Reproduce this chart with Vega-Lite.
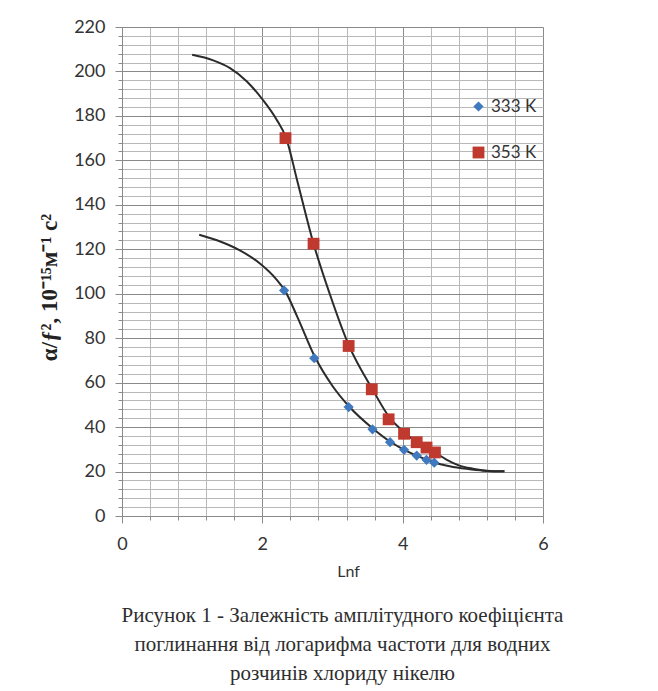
{
  "$schema": "https://vega.github.io/schema/vega-lite/v6.json",
  "autosize": "none",
  "padding": {"left": 122, "top": 27, "right": 115, "bottom": 175},
  "width": 421,
  "height": 489,
  "background": "white",
  "config": {
    "view": {"stroke": null},
    "font": "Lato"
  },
  "title": {
    "text": ["Рисунок 1 - Залежність амплітудного коефіцієнта", "поглинання від логарифма частоти для водних", "розчинів хлориду нікелю"],
    "orient": "bottom",
    "anchor": "middle",
    "font": "Liberation Serif",
    "fontSize": 21,
    "fontWeight": "normal",
    "color": "#2e2e2e",
    "lineHeight": 29,
    "offset": 26,
    "dx": 10
  },
  "datasets": {
    "points": [
      {"lnf": 2.31, "value": 101.5, "series": "333 K"},
      {"lnf": 2.74, "value": 71, "series": "333 K"},
      {"lnf": 3.23, "value": 49, "series": "333 K"},
      {"lnf": 3.57, "value": 39, "series": "333 K"},
      {"lnf": 3.82, "value": 33.2, "series": "333 K"},
      {"lnf": 4.02, "value": 29.8, "series": "333 K"},
      {"lnf": 4.2, "value": 27.2, "series": "333 K"},
      {"lnf": 4.34, "value": 25.3, "series": "333 K"},
      {"lnf": 4.45, "value": 24, "series": "333 K"},
      {"lnf": 2.33, "value": 170, "series": "353 K"},
      {"lnf": 2.73, "value": 122.5, "series": "353 K"},
      {"lnf": 3.23, "value": 76.5, "series": "353 K"},
      {"lnf": 3.56, "value": 57, "series": "353 K"},
      {"lnf": 3.8, "value": 43.5, "series": "353 K"},
      {"lnf": 4.02, "value": 37, "series": "353 K"},
      {"lnf": 4.2, "value": 33.2, "series": "353 K"},
      {"lnf": 4.34, "value": 30.8, "series": "353 K"},
      {"lnf": 4.46, "value": 28.6, "series": "353 K"}
    ],
    "curves": [
      {"lnf": 1.0, "value": 207.5, "curve": "fit353"},
      {"lnf": 1.3, "value": 205, "curve": "fit353"},
      {"lnf": 1.54, "value": 201.5, "curve": "fit353"},
      {"lnf": 1.78, "value": 195.5, "curve": "fit353"},
      {"lnf": 2.0, "value": 187.5, "curve": "fit353"},
      {"lnf": 2.2, "value": 178.5, "curve": "fit353"},
      {"lnf": 2.34, "value": 170, "curve": "fit353"},
      {"lnf": 2.5, "value": 150.5, "curve": "fit353"},
      {"lnf": 2.73, "value": 122.5, "curve": "fit353"},
      {"lnf": 2.96, "value": 100, "curve": "fit353"},
      {"lnf": 3.23, "value": 77, "curve": "fit353"},
      {"lnf": 3.57, "value": 57, "curve": "fit353"},
      {"lnf": 3.82, "value": 44, "curve": "fit353"},
      {"lnf": 4.03, "value": 37.5, "curve": "fit353"},
      {"lnf": 4.2, "value": 33.2, "curve": "fit353"},
      {"lnf": 4.46, "value": 28.6, "curve": "fit353"},
      {"lnf": 4.63, "value": 25.3, "curve": "fit353"},
      {"lnf": 4.8, "value": 22.8, "curve": "fit353"},
      {"lnf": 5.0, "value": 21.3, "curve": "fit353"},
      {"lnf": 5.2, "value": 20.4, "curve": "fit353"},
      {"lnf": 5.45, "value": 20.1, "curve": "fit353"},
      {"lnf": 1.1, "value": 126.5, "curve": "fit333"},
      {"lnf": 1.4, "value": 123.5, "curve": "fit333"},
      {"lnf": 1.68, "value": 119.5, "curve": "fit333"},
      {"lnf": 1.97, "value": 113.5, "curve": "fit333"},
      {"lnf": 2.2, "value": 106.5, "curve": "fit333"},
      {"lnf": 2.32, "value": 101.5, "curve": "fit333"},
      {"lnf": 2.5, "value": 89.5, "curve": "fit333"},
      {"lnf": 2.75, "value": 71.5, "curve": "fit333"},
      {"lnf": 3.0, "value": 58.5, "curve": "fit333"},
      {"lnf": 3.23, "value": 49.5, "curve": "fit333"},
      {"lnf": 3.57, "value": 39.5, "curve": "fit333"},
      {"lnf": 3.82, "value": 33.5, "curve": "fit333"},
      {"lnf": 4.02, "value": 29.8, "curve": "fit333"},
      {"lnf": 4.2, "value": 27.2, "curve": "fit333"},
      {"lnf": 4.44, "value": 24.2, "curve": "fit333"},
      {"lnf": 4.67, "value": 22.4, "curve": "fit333"},
      {"lnf": 4.91, "value": 21.2, "curve": "fit333"},
      {"lnf": 5.15, "value": 20.4, "curve": "fit333"},
      {"lnf": 5.45, "value": 20.1, "curve": "fit333"}
    ]
  },
  "encoding": {
    "x": {
      "field": "lnf",
      "type": "quantitative",
      "scale": {"domain": [0, 6], "nice": false, "zero": false},
      "axis": {
        "title": "Lnf",
        "titleFont": "Lato",
        "titleFontSize": 16,
        "titleFontWeight": "normal",
        "titleColor": "#333333",
        "titleX": 226,
        "titlePadding": 10,
        "values": [0, 0.4, 0.8, 1.2, 1.6, 2, 2.4, 2.8, 3.2, 3.6, 4, 4.4, 4.8, 5.2, 5.6, 6],
        "labelExpr": "datum.value % 2 === 0 ? format(datum.value, 'd') : ''",
        "labelOverlap": false,
        "labelFlush": false,
        "labelFont": "Lato",
        "labelFontSize": 18,
        "labelColor": "#333333",
        "labelPadding": 12,
        "grid": true,
        "gridColor": {"condition": {"test": "datum.value % 2 === 0", "value": "#8a8a8a"}, "value": "#b8b8b8"},
        "gridWidth": 1,
        "tickColor": "#8a8a8a",
        "tickSize": {"condition": {"test": "datum.value % 2 === 0", "value": 7}, "value": 4},
        "domainColor": "#8a8a8a"
      }
    },
    "y": {
      "field": "value",
      "type": "quantitative",
      "scale": {"domain": [0, 220], "nice": false},
      "axis": {
        "title": "α/ƒ², 10⁻¹⁵м⁻¹ с²",
        "titleFont": "Liberation Serif",
        "titleFontSize": 23,
        "titleFontWeight": "bold",
        "titleColor": "#222222",
        "titlePadding": 12,
        "titleY": 260,
        "values": [0, 4, 8, 12, 16, 20, 24, 28, 32, 36, 40, 44, 48, 52, 56, 60, 64, 68, 72, 76, 80, 84, 88, 92, 96, 100, 104, 108, 112, 116, 120, 124, 128, 132, 136, 140, 144, 148, 152, 156, 160, 164, 168, 172, 176, 180, 184, 188, 192, 196, 200, 204, 208, 212, 216, 220],
        "labelExpr": "datum.value % 20 === 0 ? format(datum.value, 'd') : ''",
        "labelOverlap": false,
        "labelFlush": false,
        "labelFont": "Lato",
        "labelFontSize": 18,
        "labelColor": "#333333",
        "labelPadding": 10,
        "grid": true,
        "gridColor": {"condition": {"test": "datum.value % 20 === 0", "value": "#8a8a8a"}, "value": "#b8b8b8"},
        "gridWidth": 1,
        "tickColor": "#8a8a8a",
        "tickSize": {"condition": {"test": "datum.value % 20 === 0", "value": 7}, "value": 4},
        "domainColor": "#8a8a8a"
      }
    }
  },
  "layer": [
    {
      "data": {"name": "curves"},
      "mark": {"type": "line", "interpolate": "monotone", "color": "#2b2b2b", "strokeWidth": 2},
      "encoding": {"detail": {"field": "curve", "type": "nominal"}}
    },
    {
      "data": {"name": "points"},
      "mark": {"type": "point", "filled": true, "opacity": 1},
      "encoding": {
        "color": {
          "field": "series",
          "type": "nominal",
          "scale": {"domain": ["333 K", "353 K"], "range": ["#3f79bf", "#c0392f"]},
          "legend": {
            "title": null,
            "orient": "none",
            "legendX": 348,
            "legendY": 71,
            "labelFont": "Lato",
            "labelFontSize": 17,
            "labelColor": "#333333",
            "rowPadding": 28,
            "labelOffset": 4
          }
        },
        "shape": {
          "field": "series",
          "type": "nominal",
          "scale": {"domain": ["333 K", "353 K"], "range": ["diamond", "square"]}
        },
        "size": {
          "field": "series",
          "type": "nominal",
          "scale": {"domain": ["333 K", "353 K"], "range": [105, 140]},
          "legend": null
        }
      }
    }
  ]
}
